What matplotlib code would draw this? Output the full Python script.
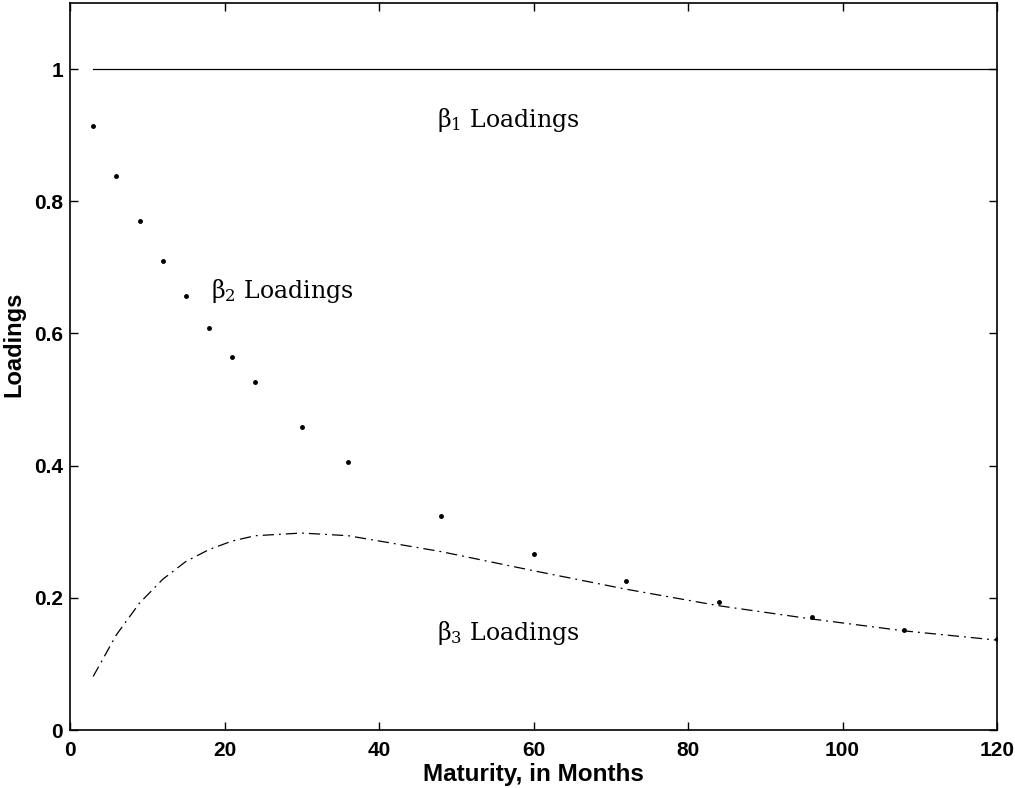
import matplotlib
matplotlib.use('Agg')
import matplotlib.pyplot as plt

# maturities in months
maturities = [3, 6, 9, 12, 15, 18, 21, 24, 30, 36, 48, 60, 72, 84, 96, 108, 120]
beta1 = [1.0] * len(maturities)
beta2 = [0.914, 0.838, 0.770, 0.710, 0.656, 0.608, 0.564, 0.526, 0.459, 0.405,
         0.324, 0.267, 0.225, 0.194, 0.171, 0.152, 0.137]
beta3 = [0.081, 0.144, 0.192, 0.228, 0.255, 0.273, 0.286, 0.294, 0.298, 0.294,
         0.270, 0.241, 0.213, 0.188, 0.168, 0.150, 0.136]

fig = plt.figure(figsize=(10.15, 7.88), dpi=100)
ax = fig.add_axes([70 / 1015, 58 / 788, 927 / 1015, 727 / 788])

ax.plot(maturities, beta1, color='black', lw=0.9)
ax.plot(maturities, beta2, ls='none', marker='o', ms=2.5, color='black')
ax.plot(maturities, beta3, color='black', lw=0.9, ls=(0, (9, 4, 1.5, 4)))

serif = dict(family='DejaVu Serif', fontsize=17)
ax.text(47.5, 0.923, r'$\mathregular{\beta_1}$ Loadings', va='center', **serif)
ax.text(18.3, 0.664, r'$\mathregular{\beta_2}$ Loadings', va='center', **serif)
ax.text(47.5, 0.147, r'$\mathregular{\beta_3}$ Loadings', va='center', **serif)

ax.set_xlim(0, 120)
ax.set_ylim(0, 1.1)
ax.set_xticks([0, 20, 40, 60, 80, 100, 120])
ax.set_yticks([0, 0.2, 0.4, 0.6, 0.8, 1])
ax.set_yticklabels(['0', '0.2', '0.4', '0.6', '0.8', '1'])
ax.tick_params(direction='in', top=True, right=True, length=6, width=1,
               labelsize=15)
ax.tick_params(axis='x', pad=8)
ax.tick_params(axis='y', pad=5)
for lab in ax.get_xticklabels() + ax.get_yticklabels():
    lab.set_family('Liberation Sans')
    lab.set_fontweight('bold')
for sp in ax.spines.values():
    sp.set_linewidth(1.2)

ax.set_xlabel('Maturity, in Months', fontsize=17.5, fontweight='bold',
              family='Liberation Sans', labelpad=2)
ax.set_ylabel('Loadings', fontsize=17, fontweight='bold',
              family='Liberation Sans')
ax.yaxis.set_label_coords(-0.048, 0.531)

fig.savefig('out.png', dpi=100)
